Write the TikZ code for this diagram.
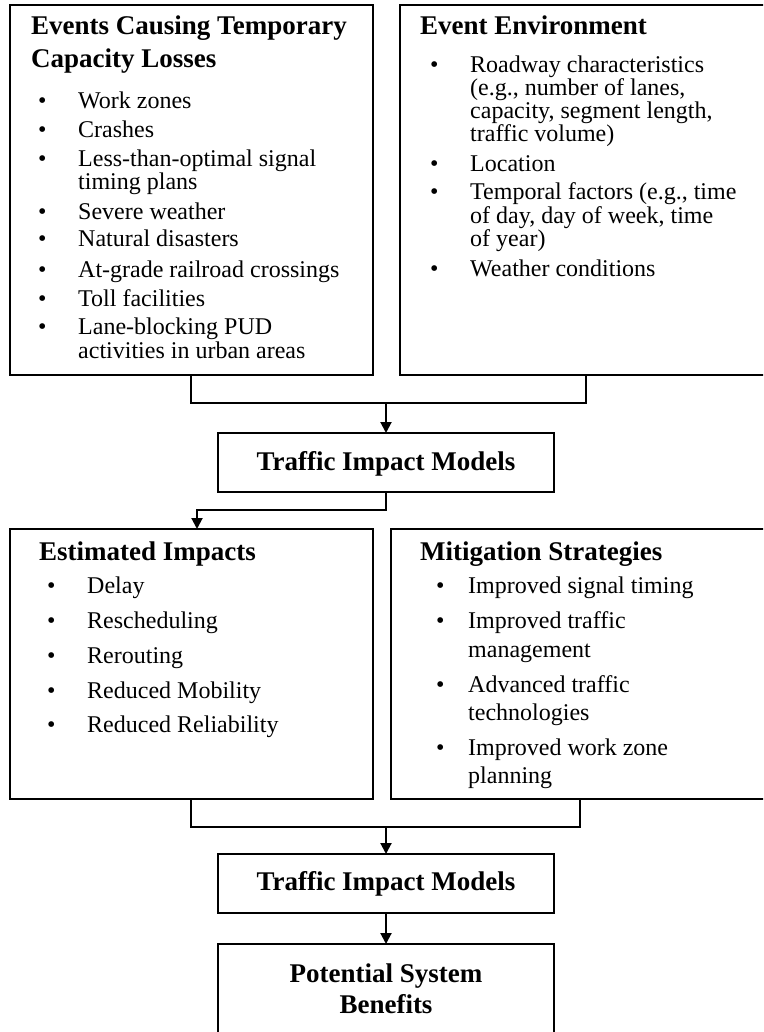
\documentclass[tikz,border=0pt]{standalone}
\usepackage{fontspec}
\setmainfont{Liberation Serif}
\usetikzlibrary{arrows.meta,calc}
\newcommand\bodyf{\fontsize{24}{24}\selectfont}
\newcommand\titlef{\fontsize{27}{33}\selectfont\bfseries}
\newcommand\bitem[5]{%
  \node[bul] (#1b) at (#2,#4) {\textbullet};
  \node[txt] (#1) at (#3,#4) {#5};}
\newcommand\contline[4]{\node[txt] (#1) at (#2,#3) {#4};}
\begin{document}
\begin{tikzpicture}[x=1pt,y=-1pt,
  box/.style={draw=black,line width=1.2pt,inner sep=0pt,outer sep=0pt,anchor=north west},
  txt/.style={inner sep=0pt,anchor=base west,font=\bodyf},
  bul/.style={inner sep=0pt,anchor=base west,font=\bodyf},
  ttl/.style={inner sep=0pt,anchor=base west,font=\titlef},
  ctl/.style={inner sep=0pt,anchor=base,font=\titlef},
  conn/.style={line width=2pt},
  arr/.style={line width=2pt,-{Triangle[length=11pt,width=11pt]}}]
\useasboundingbox (0,0) rectangle (763,1032);
\clip (0,0) rectangle (763,1032);
% boxes
\node[box,minimum width=363pt,minimum height=370pt] (b1) at (10,5) {};
\node[box,minimum width=375pt,minimum height=370pt] (b2) at (400,5) {};
\node[box,minimum width=336pt,minimum height=59pt] (b3) at (218,433) {};
\node[box,minimum width=363pt,minimum height=270pt] (b4) at (10,529) {};
\node[box,minimum width=384pt,minimum height=270pt] (b5) at (391,529) {};
\node[box,minimum width=336pt,minimum height=59pt] (b6) at (218,854) {};
\node[box,minimum width=336pt,minimum height=110pt] (b7) at (218,944) {};
% box 1 text
\node[ttl] (t1a) at (31,35) {Events Causing Temporary};
\node[ttl] (t1b) at (31,68) {Capacity Losses};
\bitem{a1}{38}{78}{109}{Work zones}
\bitem{a2}{38}{78}{138}{Crashes}
\bitem{a3}{38}{78}{167}{Less-than-optimal signal}
\contline{a3c}{78}{190}{timing plans}
\bitem{a4}{38}{78}{219}{Severe weather}
\bitem{a5}{38}{78}{247}{Natural disasters}
\bitem{a6}{38}{78}{277}{At-grade railroad crossings}
\bitem{a7}{38}{78}{306}{Toll facilities}
\bitem{a8}{38}{78}{334}{Lane-blocking PUD}
\contline{a8c}{78}{358}{activities in urban areas}
% box 2 text
\node[ttl] (t2) at (420,35) {Event Environment};
\bitem{e1}{430}{470}{73}{Roadway characteristics}
\contline{e1c}{470}{96}{(e.g., number of lanes,}
\contline{e1d}{470}{119}{capacity, segment length,}
\contline{e1e}{470}{142}{traffic volume)}
\bitem{e2}{430}{470}{172}{Location}
\bitem{e3}{430}{470}{200}{Temporal factors (e.g., time}
\contline{e3c}{470}{223}{of day, day of week, time}
\contline{e3d}{470}{246}{of year)}
\bitem{e4}{430}{470}{276}{Weather conditions}
% box 3
\node[ctl] (t3) at (386,470) {Traffic Impact Models};
% box 4 text
\node[ttl] (t4) at (39,560) {Estimated Impacts};
\bitem{i1}{47}{87}{593}{Delay}
\bitem{i2}{47}{87}{628}{Rescheduling}
\bitem{i3}{47}{87}{663}{Rerouting}
\bitem{i4}{47}{87}{698}{Reduced Mobility}
\bitem{i5}{47}{87}{732}{Reduced Reliability}
% box 5 text
\node[ttl] (t5) at (420,560) {Mitigation Strategies};
\bitem{m1}{436}{468}{593}{Improved signal timing}
\bitem{m2}{436}{468}{628}{Improved traffic}
\contline{m2c}{468}{657}{management}
\bitem{m3}{436}{468}{692}{Advanced traffic}
\contline{m3c}{468}{720}{technologies}
\bitem{m4}{436}{468}{755}{Improved work zone}
\contline{m4c}{468}{783}{planning}
% box 6, 7
\node[ctl] (t6) at (386,890) {Traffic Impact Models};
\node[ctl] (t7a) at (386,982) {Potential System};
\node[ctl] (t7b) at (386,1013) {Benefits};
% connectors
\coordinate (j1) at (b3.north |- 0,403);
\coordinate (j3) at (b6.north |- 0,827);
\draw[conn] ($(b1.south west)+(181,0)$) |- (j1) -| ($(b2.south west)+(186,0)$);
\draw[arr] (j1) -- (b3.north);
\draw[arr] (b3.south) |- ($(b4.north west)+(187,-19)$) -- ($(b4.north west)+(187,0)$);
\draw[conn] ($(b4.south west)+(181,0)$) |- (j3) -| ($(b5.south west)+(189,0)$);
\draw[arr] (j3) -- (b6.north);
\draw[arr] (b6.south) -- (b7.north);
\end{tikzpicture}
\end{document}
